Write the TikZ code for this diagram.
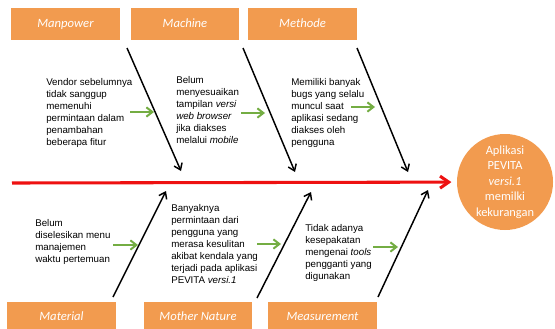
\documentclass[tikz,border=0pt]{standalone}
\usepackage{fontspec}
\setmainfont{Liberation Sans}
\newfontfamily\labelfont{Carlito}
\usetikzlibrary{arrows.meta}

\definecolor{boxorange}{HTML}{F29B4F}
\definecolor{hintgreen}{HTML}{74AD43}
\definecolor{spinered}{HTML}{EE1111}

\begin{document}
\begin{tikzpicture}[x=0.75pt,y=-0.75pt,
  catbox/.style={fill=boxorange, draw=none, inner sep=0pt,
    minimum width=81.5pt, minimum height=23.5pt, text=white,
    text height=6.2pt, text depth=1.6pt,
    font=\labelfont\itshape\fontsize{9.5}{11}\selectfont},
  causetext/.style={align=left, anchor=north west, inner sep=0pt,
    font=\fontsize{7.3}{9}\selectfont},
  bone/.style={line width=1.1pt, -{Straight Barb[length=4.5pt,width=6.5pt]}},
  hint/.style={hintgreen, line width=1.5pt, -{Straight Barb[length=4.5pt,width=7pt]}},
  spine/.style={spinered, line width=2.3pt, -{Straight Barb[length=6.5pt,width=9pt]}},
]
\clip (0,0) rectangle (555,328);

% category boxes, upper row
\node[catbox] (manpower) at (65.5,24) {Manpower};
\node[catbox] (machine)  at (185,24)  {Machine};
\node[catbox] (methode)  at (302.5,24) {Methode};

% category boxes, lower row
\node[catbox, minimum height=22.5pt] (material) at (61.5,317)  {Material};
\node[catbox, minimum height=22.5pt] (nature)   at (198,317)   {Mother Nature};
\node[catbox, minimum height=22.5pt] (measure)  at (322.5,317) {Measurement};

% effect
\node[circle, fill=boxorange, draw=none, minimum size=72pt, inner sep=0pt,
      text=white, align=center,
      font=\labelfont\fontsize{9.3}{11.6}\selectfont] (effect) at (505,182)
  {Aplikasi\\PEVITA\\\textit{versi.1}\\memilki\\kekurangan};

% spine
\coordinate (tail) at (12,183);
\draw[spine, shorten >=4pt] (tail) -- (effect);

% bones
\coordinate (b1s) at (127,48);  \coordinate (b1e) at (181,171);
\coordinate (b2s) at (243,48);  \coordinate (b2e) at (295,172);
\coordinate (b3s) at (357,48);  \coordinate (b3e) at (408,172);
\coordinate (b4s) at (113,297); \coordinate (b4e) at (166,191);
\coordinate (b5s) at (257,298); \coordinate (b5e) at (311,192);
\coordinate (b6s) at (378,297); \coordinate (b6e) at (428,190);
\draw[bone] (b1s) -- (b1e);
\draw[bone] (b2s) -- (b2e);
\draw[bone] (b3s) -- (b3e);
\draw[bone] (b4s) -- (b4e);
\draw[bone] (b5s) -- (b5e);
\draw[bone] (b6s) -- (b6e);

% causes
\node[causetext] (c1) at (46,78)
  {Vendor sebelumnya\\tidak sanggup\\memenuhi\\permintaan dalam\\penambahan\\beberapa fitur};
\node[causetext] (c2) at (176,76)
  {Belum\\menyesuaikan\\tampilan \textit{versi}\\\textit{web browser}\\jika diakses\\melalui \textit{mobile}};
\node[causetext] (c3) at (291,78)
  {Memiliki banyak\\bugs yang selalu\\muncul saat\\aplikasi sedang\\diakses oleh\\pengguna};
\node[causetext] (c4) at (35,219)
  {Belum\\diselesikan menu\\manajemen\\waktu pertemuan};
\node[causetext] (c5) at (171,204)
  {Banyaknya\\permintaan dari\\pengguna yang\\merasa kesulitan\\akibat kendala yang\\terjadi pada aplikasi\\PEVITA \textit{versi.1}};
\node[causetext] (c6) at (305,224)
  {Tidak adanya\\kesepakatan\\mengenai \textit{tools}\\pengganti yang\\digunakan};

% pointers from causes to bones
\coordinate (g1s) at (130,112); \coordinate (g1e) at (154,112);
\coordinate (g2s) at (241,113); \coordinate (g2e) at (265,113);
\coordinate (g3s) at (351,107); \coordinate (g3e) at (375,107);
\coordinate (g4s) at (113,245); \coordinate (g4e) at (138,245);
\coordinate (g5s) at (257,244); \coordinate (g5e) at (281,244);
\coordinate (g6s) at (373,247); \coordinate (g6e) at (398,247);
\draw[hint] (g1s) -- (g1e);
\draw[hint] (g2s) -- (g2e);
\draw[hint] (g3s) -- (g3e);
\draw[hint] (g4s) -- (g4e);
\draw[hint] (g5s) -- (g5e);
\draw[hint] (g6s) -- (g6e);
\end{tikzpicture}
\end{document}
